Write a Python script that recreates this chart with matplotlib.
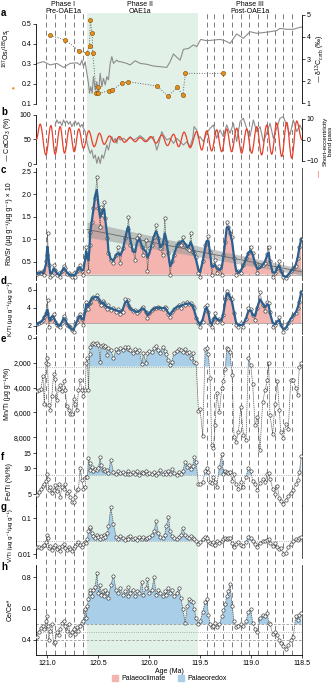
import matplotlib
matplotlib.use('Agg')
import matplotlib.pyplot as plt
import numpy as np
from matplotlib.path import Path
from matplotlib.patches import PathPatch, Patch

plt.rcParams['font.family'] = ['Liberation Sans', 'DejaVu Sans']
plt.rcParams['mathtext.default'] = 'regular'
plt.rcParams['font.size'] = 5
plt.rcParams['axes.linewidth'] = 0.6

# ---------------- data ----------------
phase2 = (120.61, 119.52)
cycle_ages = [121.013, 120.922, 120.830, 120.735, 120.644,
              119.434, 119.360, 119.272, 119.183, 119.101, 119.017,
              118.934, 118.846, 118.765, 118.689, 118.601]

# a: Os isotopes and d13C
os_age = [120.971, 120.821, 120.686, 120.611, 120.585, 120.578, 120.559, 120.552, 120.520, 120.500,
          120.498, 120.389, 120.363, 120.268, 120.209, 119.925, 119.814, 119.722, 119.670, 119.644, 119.277]
os_val = [0.443, 0.420, 0.365, 0.353, 0.390, 0.520, 0.453, 0.353, 0.157, 0.187,
          0.153, 0.167, 0.170, 0.203, 0.212, 0.190, 0.140, 0.183, 0.143, 0.253, 0.253]

d13c_age = [121.101, 121.036, 120.971, 120.905, 120.840, 120.775, 120.709, 120.677, 120.660, 120.644,
            120.628, 120.611, 120.595, 120.585, 120.572, 120.559, 120.546, 120.529, 120.513, 120.497,
            120.480, 120.464, 120.448, 120.431, 120.415, 120.399, 120.382, 120.366, 120.350, 120.333,
            120.317, 120.301, 120.284, 120.219, 120.186, 120.137, 120.088, 120.023, 119.958, 119.892,
            119.827, 119.794, 119.761, 119.729, 119.696, 119.663, 119.614, 119.565, 119.533, 119.494,
            119.435, 119.369, 119.304, 119.255, 119.206, 119.141, 119.075, 119.010, 118.945, 118.879,
            118.814, 118.749, 118.716, 118.651, 118.585, 118.520, 118.500]
d13c_val = [2.80, 2.88, 2.73, 2.80, 2.62, 2.80, 2.83, 2.73, 2.95, 2.65,
            2.88, 2.35, 1.89, 1.44, 1.74, 1.44, 2.20, 1.59, 1.97, 1.44,
            2.35, 1.74, 2.12, 1.82, 2.20, 2.05, 2.80, 3.11, 2.80, 2.88,
            2.95, 2.88, 2.88, 2.80, 2.73, 2.92, 2.80, 2.76, 2.68, 2.65,
            2.62, 2.88, 3.23, 3.08, 2.95, 3.44, 3.48, 3.64, 3.56, 3.89,
            3.83, 3.86, 3.89, 3.83, 3.71, 4.14, 3.94, 4.24, 4.17, 4.20,
            4.24, 4.29, 4.39, 4.35, 4.35, 4.44, 4.45]

# b: CaCO3 and short-eccentricity band pass (extremes)
caco3_age = [120.922, 120.905, 120.889, 120.873, 120.856, 120.840, 120.824, 120.807, 120.791, 120.775,
             120.758, 120.742, 120.725, 120.709, 120.693, 120.676, 120.660, 120.644, 120.627, 120.611,
             120.595, 120.578, 120.562, 120.546, 120.529, 120.513, 120.497, 120.480, 120.464, 120.448,
             120.431, 120.415, 120.399, 120.382, 120.366, 120.350, 120.333, 120.317, 120.301, 120.284,
             120.252, 120.219, 120.186, 120.154, 120.121, 120.088, 120.056, 120.023, 119.990, 119.958,
             119.925, 119.909, 119.892, 119.876, 119.859, 119.827, 119.794, 119.761, 119.729, 119.696,
             119.663, 119.631, 119.598, 119.572, 119.559, 119.533, 119.516, 119.500, 119.467, 119.435,
             119.402, 119.369, 119.337, 119.304, 119.271, 119.239, 119.206, 119.173, 119.141, 119.108,
             119.075, 119.043, 119.010, 118.977, 118.945, 118.912, 118.879, 118.847, 118.814, 118.781,
             118.749, 118.716, 118.683, 118.651, 118.618, 118.585, 118.552, 118.520, 118.500]
caco3_val = [79.6, 89.8, 83.0, 86.4, 78.2, 89.8, 83.0, 87.8, 81.0, 86.4,
             76.2, 83.0, 87.8, 79.6, 85.0, 75.5, 81.0, 72.8, 66.0, 45.6,
             32.0, 21.8, 28.6, 11.6, 18.4, 1.4, 15.0, 1.0, 18.4, 11.6,
             25.2, 38.8, 28.6, 45.6, 55.8, 45.6, 52.4, 42.2, 55.8, 49.0,
             52.4, 47.0, 55.8, 49.0, 52.4, 57.8, 52.4, 45.6, 52.4, 55.8,
             28.6, 38.8, 52.4, 66.0, 59.2, 49.0, 52.4, 42.2, 52.4, 45.6,
             38.8, 45.6, 35.4, 52.4, 76.2, 69.4, 52.4, 55.8, 45.6, 62.6,
             72.8, 79.6, 52.4, 69.4, 55.8, 79.6, 62.6, 83.0, 45.6, 86.4,
             93.2, 72.8, 55.8, 89.8, 66.0, 76.2, 45.6, 62.6, 83.0, 52.4,
             72.8, 93.2, 96.6, 79.6, 59.2, 89.8, 66.0, 79.6, 69.4]

band_age = [121.108, 121.069, 121.013, 120.964, 120.922, 120.873, 120.830, 120.781, 120.735, 120.690,
            120.644, 120.592, 120.539, 120.487, 120.441, 120.389, 120.340, 120.291, 120.242, 120.186,
            120.137, 120.088, 120.036, 119.984, 119.931, 119.876, 119.820, 119.761, 119.709, 119.657,
            119.598, 119.533, 119.484, 119.435, 119.386, 119.337, 119.288, 119.239, 119.190, 119.141,
            119.092, 119.043, 118.994, 118.944, 118.896, 118.846, 118.797, 118.748, 118.699, 118.650,
            118.601, 118.552, 118.500]
band_val = [0.0, 7.5, -7.1, 6.8, -6.8, 6.3, -6.3, 5.9, -5.6, 5.2,
            -4.0, 4.3, -3.2, 3.2, -2.1, 1.9, -1.1, 1.6, -1.1, 1.1,
            -0.8, 1.1, -0.8, 1.6, -1.5, 2.4, -2.7, 2.7, -3.2, 3.7,
            -3.7, 4.0, -4.8, 4.3, -5.2, 4.8, -5.6, 5.2, -5.6, 5.6,
            -6.3, 5.2, -6.3, 6.3, -7.1, 7.1, -6.8, 8.0, -7.9, 8.4,
            -8.7, 9.0, 0.0]

# c-h: sample ages shared by the geochemical ratios
ages = [121.101, 121.085, 121.062, 121.042, 121.029, 121.010, 121.003, 120.997, 120.984, 120.971,
        120.954, 120.938, 120.922, 120.905, 120.889, 120.873, 120.856, 120.840, 120.824, 120.807,
        120.791, 120.775, 120.758, 120.742, 120.725, 120.709, 120.693, 120.676, 120.660, 120.644,
        120.627, 120.618, 120.605, 120.595, 120.585, 120.578, 120.562, 120.546, 120.529, 120.513,
        120.497, 120.480, 120.471, 120.454, 120.441, 120.431, 120.409, 120.399, 120.376, 120.350,
        120.324, 120.301, 120.284, 120.258, 120.235, 120.212, 120.203, 120.186, 120.160, 120.137,
        120.121, 120.095, 120.072, 120.056, 120.029, 120.016, 119.997, 119.974, 119.951, 119.931,
        119.909, 119.892, 119.866, 119.846, 119.833, 119.810, 119.794, 119.778, 119.755, 119.729,
        119.709, 119.690, 119.670, 119.647, 119.624, 119.605, 119.592, 119.572, 119.559, 119.539,
        119.516, 119.500, 119.474, 119.451, 119.435, 119.418, 119.402, 119.386, 119.369, 119.353,
        119.337, 119.310, 119.288, 119.271, 119.252, 119.239, 119.222, 119.206, 119.186, 119.167,
        119.147, 119.124, 119.101, 119.075, 119.049, 119.026, 119.003, 118.984, 118.961, 118.938,
        118.912, 118.886, 118.863, 118.840, 118.827, 118.814, 118.788, 118.765, 118.742, 118.722,
        118.709, 118.683, 118.657, 118.634, 118.611, 118.585, 118.562, 118.542, 118.526, 118.507]

rbsr = [0.23, 0.27, 0.25, 0.29, 0.21, 0.51, 0.65, 1.13, 0.43, 0.17,
        0.21, 0.43, 0.32, 0.21, 0.25, 0.17, 0.29, 0.40, 0.36, 0.23,
        0.25, 0.21, 0.17, 0.25, 0.17, 0.29, 0.36, 0.43, 0.29, 0.21,
        0.62, 0.84, 0.65, 0.30, 0.88, 1.17, 1.39, 1.69, 1.91, 2.39,
        1.69, 1.28, 1.72, 1.54, 1.83, 1.47, 1.02, 0.69, 0.54, 0.47,
        0.65, 0.84, 0.47, 0.80, 1.02, 1.24, 1.50, 0.88, 0.77, 0.54,
        1.02, 1.10, 0.84, 0.65, 0.99, 0.29, 0.80, 0.88, 1.06, 1.32,
        1.02, 0.80, 0.65, 1.47, 0.95, 0.69, 0.21, 0.51, 0.65, 0.88,
        0.95, 0.88, 1.06, 0.88, 0.80, 0.77, 1.13, 0.73, 0.69, 0.62,
        0.25, 0.17, 0.51, 0.88, 0.95, 1.08, 0.73, 0.21, 0.43, 0.54,
        0.25, 0.40, 0.21, 0.65, 0.95, 1.39, 1.28, 1.13, 1.06, 0.58,
        0.21, 0.29, 0.25, 0.43, 0.58, 0.69, 0.82, 0.69, 0.47, 0.25,
        0.40, 0.43, 0.47, 0.67, 0.82, 0.51, 0.17, 0.25, 0.36, 0.52,
        0.29, 0.17, 0.14, 0.21, 0.29, 0.36, 0.40, 0.58, 0.84, 1.01]
rbsr_trend_age = [120.61, 118.50]
rbsr_trend_mid = [1.22, 0.28]
rbsr_trend_half = [0.17, 0.07]

kti = [2.15, 2.3, 2.4, 2.6, 3.0, 3.4, 3.4, 4.9, 1.9, 2.8,
       3.0, 3.3, 2.45, 2.1, 2.0, 1.9, 2.3, 3.1, 2.8, 2.1,
       2.0, 1.9, 1.5, 1.3, 2.15, 2.4, 3.0, 3.3, 2.8, 2.1,
       3.75, 4.7, 4.3, 3.9, 4.5, 4.7, 5.1, 5.25, 5.05, 5.4,
       5.0, 4.7, 4.3, 4.8, 4.5, 4.25, 3.9, 4.3, 3.75, 4.0,
       3.55, 3.85, 3.3, 3.55, 5.0, 4.88, 4.3, 3.94, 3.6, 3.75,
       3.4, 3.6, 3.94, 4.1, 3.55, 2.9, 3.4, 3.75, 4.0, 3.94,
       4.1, 4.0, 3.85, 4.1, 3.94, 3.3, 3.0, 3.55, 3.85, 4.1,
       4.3, 4.0, 4.5, 4.3, 4.6, 4.4, 4.5, 4.25, 3.94, 2.82,
       2.3, 1.9, 2.45, 4.1, 4.3, 3.55, 2.15, 1.8, 2.8, 3.4,
       2.45, 2.8, 2.3, 3.2, 5.0, 5.9, 5.6, 5.1, 5.0, 3.4,
       2.1, 1.9, 2.3, 1.8, 2.8, 3.94, 3.85, 3.2, 2.6, 4.0,
       5.75, 4.3, 3.6, 4.7, 4.5, 3.55, 1.9, 2.1, 2.45, 3.0,
       2.1, 1.33, 1.7, 2.3, 2.8, 3.2, 3.4, 3.94, 4.7, 5.8]

mnti = [4300, 4200, 4100, 3100, 5300, 2000, 1600, 2100, 5400, 5800,
        4700, 2900, 3300, 5000, 4100, 3800, 4300, 3500, 4200, 5500,
        5800, 6100, 6150, 4900, 5300, 5800, 4200, 3400, 4200, 4700,
        4200, 2000, 1640, 4190, 1290, 700, 480, 430, 480, 430,
        560, 1900, 650, 560, 700, 650, 1370, 830, 970, 1640,
        910, 1100, 830, 970, 750, 910, 700, 970, 1240, 910,
        1100, 970, 2100, 1240, 2040, 1180, 1020, 1100, 830, 650,
        970, 1240, 700, 1020, 1290, 1770, 2180, 1910, 1240, 1020,
        910, 970, 1100, 910, 1240, 1100, 1640, 1240, 1910, 2040,
        5900, 5700, 7900, 900, 800, 1300, 3200, 8600, 8900, 7000,
        4400, 6000, 4000, 3500, 2500, 800, 900, 1100, 3000, 8000,
        8400, 7600, 5600, 7800, 8200, 1600, 2200, 3700, 7000, 6400,
        9000, 5200, 4200, 3400, 2000, 6200, 7700, 5300, 3500, 5800,
        7600, 8100, 6900, 7300, 3400, 3400, 4000, 4600, 2300, 2000]

feti = [4.9, 5.3, 5.7, 6.2, 6.5, 7.2, 8.7, 7.5, 5.6, 6.1,
        5.1, 5.6, 6.4, 5.4, 6.5, 4.6, 6.1, 5.8, 6.5, 5.1,
        5.4, 4.6, 4.1, 4.0, 4.6, 5.6, 5.8, 10.2, 7.4, 5.8,
        6.1, 8.0, 7.9, 13.3, 11.5, 9.6, 10.5, 9.4, 9.9, 9.6,
        10.2, 13.5, 11.0, 9.5, 9.8, 9.4, 9.6, 8.9, 12.6, 9.0,
        8.6, 9.3, 8.8, 9.0, 8.5, 9.2, 8.7, 8.5, 9.0, 8.6,
        9.3, 8.4, 9.1, 8.8, 9.4, 8.5, 8.9, 8.6, 9.1, 8.4,
        8.9, 9.5, 8.6, 9.0, 8.5, 9.2, 8.7, 9.8, 8.8, 8.4,
        9.0, 8.7, 9.3, 11.8, 10.5, 11.0, 9.8, 10.6, 13.4, 12.0,
        6.5, 6.5, 7.0, 9.3, 10.2, 9.0, 7.0, 6.8, 8.0, 7.0,
        6.0, 10.5, 14.5, 8.6, 9.2, 9.0, 8.8, 9.0, 7.2, 8.5,
        6.6, 5.8, 7.0, 6.0, 8.0, 10.2, 9.4, 7.2, 6.5, 5.6,
        6.8, 7.5, 7.0, 8.5, 8.9, 7.6, 5.8, 5.0, 6.2, 4.5,
        4.2, 3.8, 4.3, 4.8, 5.2, 5.6, 6.6, 7.3, 9.0, 14.0]

vti = [0.016, 0.016, 0.015, 0.017, 0.018, 0.022, 0.034, 0.028, 0.015, 0.017,
       0.013, 0.016, 0.018, 0.014, 0.016, 0.012, 0.017, 0.019, 0.015, 0.013,
       0.016, 0.014, 0.012, 0.015, 0.017, 0.019, 0.022, 0.018, 0.016, 0.019,
       0.022, 0.020, 0.026, 0.045, 0.055, 0.058, 0.040, 0.032, 0.028, 0.034,
       0.030, 0.026, 0.032, 0.029, 0.035, 0.030, 0.038, 0.060, 0.200, 0.070,
       0.030, 0.027, 0.032, 0.028, 0.025, 0.030, 0.027, 0.032, 0.026, 0.029,
       0.025, 0.030, 0.027, 0.031, 0.026, 0.028, 0.030, 0.034, 0.045, 0.085,
       0.038, 0.030, 0.028, 0.035, 0.060, 0.110, 0.045, 0.032, 0.029, 0.027,
       0.031, 0.035, 0.055, 0.034, 0.030, 0.028, 0.032, 0.029, 0.027, 0.024,
       0.019, 0.022, 0.026, 0.030, 0.028, 0.024, 0.021, 0.019, 0.022, 0.018,
       0.024, 0.021, 0.023, 0.026, 0.028, 0.027, 0.029, 0.028, 0.020, 0.016,
       0.019, 0.022, 0.018, 0.017, 0.022, 0.030, 0.029, 0.024, 0.019, 0.016,
       0.021, 0.024, 0.023, 0.025, 0.027, 0.020, 0.017, 0.020, 0.016, 0.014,
       0.015, 0.010, 0.011, 0.016, 0.019, 0.024, 0.026, 0.025, 0.028, 0.030]

ce = [0.42, 0.45, 0.475, 0.49, 0.47, 0.52, 0.55, 0.49, 0.40, 0.46,
      0.50, 0.38, 0.39, 0.45, 0.43, 0.47, 0.51, 0.52, 0.49, 0.46,
      0.50, 0.43, 0.45, 0.47, 0.44, 0.48, 0.46, 0.49, 0.51, 0.52,
      0.60, 0.54, 0.62, 0.66, 0.72, 0.70, 0.68, 0.72, 0.74, 0.83,
      0.70, 0.75, 0.69, 0.71, 0.68, 0.72, 0.70, 0.67, 0.75, 0.81,
      0.72, 0.70, 0.73, 0.69, 0.71, 0.68, 0.74, 0.70, 0.72, 0.68,
      0.71, 0.70, 0.77, 0.69, 0.73, 0.79, 0.70, 0.72, 0.80, 0.69,
      0.72, 0.70, 0.68, 0.71, 0.69, 0.73, 0.70, 0.72, 0.68, 0.70,
      0.73, 0.67, 0.60, 0.51, 0.62, 0.66, 0.65, 0.64, 0.60, 0.54,
      0.50, 0.52, 0.58, 0.64, 0.66, 0.56, 0.50, 0.48, 0.49, 0.51,
      0.48, 0.50, 0.55, 0.59, 0.63, 0.68, 0.71, 0.76, 0.62, 0.52,
      0.48, 0.49, 0.50, 0.49, 0.52, 0.58, 0.60, 0.51, 0.47, 0.45,
      0.54, 0.56, 0.55, 0.57, 0.51, 0.50, 0.44, 0.45, 0.43, 0.40,
      0.38, 0.36, 0.34, 0.37, 0.40, 0.42, 0.55, 0.53, 0.56, 0.57]

# ---------------- style ----------------
GREEN = '#e2f1e8'
PINK = '#f4b4b0'
BLUE = '#a9cfe8'
LINEBLUE = '#2b5f8e'
GREY = '#8c8c8c'
RED = '#e8402a'
ORANGE = '#e8901a'
XL = (121.11, 118.5)

W_PX, H_PX = 332, 685
fig = plt.figure(figsize=(3.32, 6.85), dpi=100)
L, R = 36 / W_PX, 302 / W_PX


def panel(top, bottom):
    ax = fig.add_axes([L, 1 - bottom / H_PX, R - L, (bottom - top) / H_PX])
    ax.set_facecolor('none')
    ax.set_xlim(XL)
    for s in ('top', 'bottom'):
        ax.spines[s].set_visible(False)
    ax.spines['right'].set_color('#333333')
    ax.tick_params(axis='x', bottom=False, labelbottom=False)
    ax.tick_params(axis='y', length=2, width=0.5, pad=1.5, labelsize=5)
    return ax


def smooth(v):
    v = np.asarray(v, float)
    out = v.copy()
    out[1:-1] = 0.25 * v[:-2] + 0.5 * v[1:-1] + 0.25 * v[2:]
    return out


def raw(ax, y):
    ax.plot(ages, y, ls=(0, (2, 1)), lw=0.5, color='#555555', zorder=3)
    ax.plot(ages, y, 'o', ms=2.4, mfc='white', mec='#333333', mew=0.45, zorder=4)


# background: phase II shading and eccentricity cycle lines
bg = fig.add_axes([L, 1 - 655 / H_PX, R - L, (655 - 13) / H_PX])
bg.set_xlim(XL)
bg.set_ylim(0, 1)
bg.axis('off')
bg.axvspan(*phase2, color=GREEN, lw=0, zorder=0)
for a in cycle_ages:
    bg.axvline(a, color='#7a7a7a', lw=0.7, ls=(0, (5, 3.5)), zorder=1)

# panel a
ax = panel(12, 106)
ax.set_ylim(0.09, 0.56)
ax.spines['left'].set_bounds(0.1, 0.5)
ax.spines['right'].set_visible(False)
ax.set_yticks([0.1, 0.2, 0.3, 0.4, 0.5])
ax.plot(os_age, os_val, ':', color='#666666', lw=0.7, zorder=5)
ax.plot(os_age, os_val, 'o', ms=3, mfc=ORANGE, mec='#7a4a00', mew=0.4, zorder=6)
ax.set_ylabel('$^{187}$Os/$^{188}$Os$_{i}$', labelpad=1)
ax.yaxis.set_label_coords(-0.085, 0.62)
ax.text(-0.085, 0.2, '\u25cf', color=ORANGE, transform=ax.transAxes, rotation=90,
        ha='center', va='center', fontsize=4)
ax2 = ax.twinx()
ax2.set_xlim(XL)
ax2.set_ylim(0.864, 5.136)
for s in ('top', 'bottom', 'left'):
    ax2.spines[s].set_visible(False)
ax2.spines['right'].set_bounds(1, 5)
ax2.set_yticks([1, 2, 3, 4, 5])
ax2.tick_params(axis='y', length=2, width=0.5, pad=1.5, labelsize=5)
ax2.plot(d13c_age, d13c_val, color=GREY, lw=0.8, zorder=2)
ax2.set_ylabel('\u2014 \u03b4$^{13}$C$_{carb}$ (\u2030)', labelpad=2)
ax.set_zorder(ax2.get_zorder() + 1)

# panel b
ax = panel(112, 166)
ax.set_ylim(-4, 106)
ax.spines['left'].set_bounds(0, 100)
ax.spines['right'].set_visible(False)
ax.set_yticks([0, 50, 100])
ax.plot(caco3_age, caco3_val, color=GREY, lw=0.8, zorder=2)
ax.set_ylabel('\u2014 CaCO$_{3}$ (%)', labelpad=1)
ax.yaxis.set_label_coords(-0.085, 0.5)
ax2 = ax.twinx()
ax2.set_xlim(XL)
ax2.set_ylim(-12.4, 13.3)
for s in ('top', 'bottom', 'left'):
    ax2.spines[s].set_visible(False)
ax2.spines['right'].set_bounds(-10, 10)
ax2.set_yticks([-10, 0, 10])
ax2.set_yticklabels(['\u221210', '0', '10'])
ax2.tick_params(axis='y', length=2, width=0.5, pad=1.5, labelsize=5)
verts = [(band_age[0], band_val[0])]
codes = [Path.MOVETO]
for i in range(1, len(band_age)):
    x0, y0, x1, y1 = band_age[i - 1], band_val[i - 1], band_age[i], band_val[i]
    dx = x1 - x0
    verts += [(x0 + 0.364 * dx, y0), (x1 - 0.364 * dx, y1), (x1, y1)]
    codes += [Path.CURVE4] * 3
ax2.add_patch(PathPatch(Path(verts, codes), fill=False, ec=RED, lw=0.9, zorder=3))
ax2.set_ylabel('Short-eccentricity\nband pass', fontsize=4.6, linespacing=1.0)
ax2.yaxis.set_label_coords(1.078, 0.45)
ax2.text(1.066, -0.13, '\u2014', color=RED, transform=ax2.transAxes, rotation=90,
         ha='center', va='center', fontsize=5)

# panel c
ax = panel(168, 280)
ax.set_ylim(0.10, 2.58)
ax.set_yticks([0.5, 1.0, 1.5, 2.0, 2.5])
rb_s = smooth(rbsr)
ax.fill_between(ages, rb_s, 0.22, where=rb_s > 0.22, interpolate=True, color=PINK, lw=0, zorder=1)
ax.axhline(0.22, color='#999999', lw=0.5, zorder=1)
lo = np.array(rbsr_trend_mid) - np.array(rbsr_trend_half)
hi = np.array(rbsr_trend_mid) + np.array(rbsr_trend_half)
ax.fill_between(rbsr_trend_age, lo, hi, color='#9a9a9a', alpha=0.55, lw=0, zorder=2)
ax.plot(rbsr_trend_age, rbsr_trend_mid, color='#666666', lw=0.6, zorder=2)
raw(ax, rbsr)
ax.plot(ages, rb_s, color=LINEBLUE, lw=1.6, zorder=5)
ax.set_ylabel('Rb/Sr (\u00b5g g\u207b\u00b9/\u00b5g g\u207b\u00b9) \u00d7 10', labelpad=1)
ax.yaxis.set_label_coords(-0.085, 0.5)

# panel d
ax = panel(283, 334)
ax.set_ylim(1.07, 6.78)
ax.set_yticks([2, 4, 6])
k_s = smooth(kti)
ax.fill_between(ages, k_s, 2.25, where=k_s > 2.25, interpolate=True, color=PINK, lw=0, zorder=1)
ax.axhline(2.25, color='#999999', lw=0.5, zorder=1)
raw(ax, kti)
ax.plot(ages, k_s, color=LINEBLUE, lw=1.6, zorder=5)
ax.set_ylabel('K/Ti (\u00b5g g\u207b\u00b9/\u00b5g g\u207b\u00b9)', fontsize=4.6)
ax.yaxis.set_label_coords(-0.085, 0.5)

# panel e
ax = panel(336, 452)
ax.set_ylim(9190, -160)
ax.set_yticks([0, 2000, 4000, 6000, 8000])
ax.set_yticklabels(['0', '2,000', '4,000', '6,000', '8,000'])
mn = np.array(mnti, float)
ax.fill_between(ages, mn, 2300, where=mn < 2300, interpolate=True, color=BLUE, lw=0, zorder=1)
ax.axhline(2300, color='#999999', lw=0.6, ls=':', zorder=1)
raw(ax, mnti)
ax.set_ylabel('Mn/Ti (\u00b5g g\u207b\u00b9/%)', labelpad=1)
ax.yaxis.set_label_coords(-0.095, 0.5)

# panel f
ax = panel(452, 506)
ax.set_yscale('log')
ax.set_ylim(3.64, 15.5)
ax.set_yticks([5, 10, 15])
ax.set_yticklabels(['5', '10', '15'])
ax.yaxis.set_minor_locator(matplotlib.ticker.NullLocator())
fe = np.array(feti, float)
ax.fill_between(ages, fe, 8.3, where=fe > 8.3, interpolate=True, color=BLUE, lw=0, zorder=1)
ax.axhline(8.3, color='#999999', lw=0.6, ls=':', zorder=1)
raw(ax, feti)
ax.set_ylabel('Fe/Ti (%/%)', labelpad=1)
ax.yaxis.set_label_coords(-0.085, 0.45)

# panel g
ax = panel(505, 558)
ax.set_yscale('log')
ax.set_ylim(0.0079, 0.234)
ax.set_yticks([0.01, 0.1])
ax.set_yticklabels(['0.01', '0.1'])
ax.yaxis.set_minor_locator(matplotlib.ticker.NullLocator())
vv = np.array(vti, float)
ax.fill_between(ages, vv, 0.0234, where=vv > 0.0234, interpolate=True, color=BLUE, lw=0, zorder=1)
ax.axhline(0.0234, color='#999999', lw=0.6, ls=':', zorder=1)
raw(ax, vti)
ax.set_ylabel('V/Ti (\u00b5g g\u207b\u00b9/\u00b5g g\u207b\u00b9)', fontsize=4.4)
ax.yaxis.set_label_coords(-0.085, 0.42)

# panel h
ax = panel(565, 655)
ax.set_ylim(0.304, 0.879)
ax.set_yticks([0.4, 0.6, 0.8])
cc = np.array(ce, float)
ax.fill_between(ages, cc, 0.5, where=cc > 0.5, interpolate=True, color=BLUE, lw=0, zorder=1)
ax.axhline(0.5, color='#999999', lw=0.6, ls=(0, (3, 2)), zorder=1)
ax.axhline(0.45, color='#999999', lw=0.6, ls=':', zorder=1)
ax.axhline(0.4, color='#999999', lw=0.6, ls=(0, (3, 2)), zorder=1)
raw(ax, ce)
ax.set_ylabel('Ce/Ce*', labelpad=1)
ax.yaxis.set_label_coords(-0.085, 0.5)
ax.spines['bottom'].set_visible(True)
ax.tick_params(axis='x', bottom=True, labelbottom=True, length=2, width=0.5, pad=1.5, labelsize=5)
ax.set_xticks([121.0, 120.5, 120.0, 119.5, 119.0, 118.5])
ax.set_xticklabels(['121.0', '120.5', '120.0', '119.5', '119.0', '118.5'])
ax.set_xlabel('Age (Ma)', labelpad=1)

# panel letters and phase headings
for letter, ypx in zip('abcdefgh', [13, 112, 170, 281, 339, 457, 507, 567]):
    fig.text(1 / W_PX, 1 - ypx / H_PX, letter, fontsize=7, fontweight='bold', va='center')
for label, xpx in [('Phase I\nPre-OAE1a', 63), ('Phase II\nOAE1a', 140), ('Phase III\nPost-OAE1a', 250)]:
    fig.text(xpx / W_PX, 1 - 1 / H_PX, label, ha='center', va='top', fontsize=5, linespacing=1.0)

fig.legend(handles=[Patch(color=PINK, label='Palaeoclimate'), Patch(color=BLUE, label='Palaeoredox')],
           loc='lower center', bbox_to_anchor=(0.51, -0.005), ncol=2, frameon=False, fontsize=5,
           handlelength=0.9, handleheight=0.9, columnspacing=1.8, handletextpad=0.5)

fig.savefig('out.png', dpi=100)
